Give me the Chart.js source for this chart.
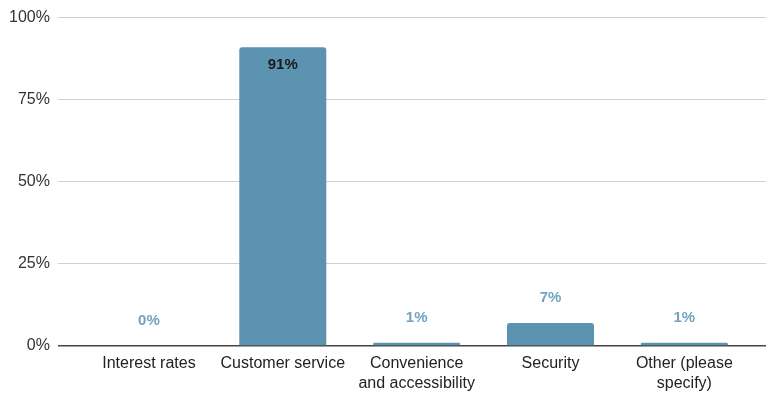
<!DOCTYPE html>
<html>
<head>
<meta charset="utf-8">
<script src="https://cdn.jsdelivr.net/npm/chart.js@4"></script>
<style>
  html, body { margin: 0; padding: 0; background: #fff; }
  #wrap { width: 766px; height: 408px; }
</style>
</head>
<body>
<div id="wrap"><canvas id="myChart"></canvas></div>
<script>
const categories = [
  'Interest rates',
  'Customer service',
  ['Convenience', 'and accessibility'],
  'Security',
  ['Other (please', 'specify)']
]
const shares = [0, 91, 1, 7, 1]
const yTicks = [0, 25, 50, 75, 100]

const barColor = '#5b93b1'
const labelColor = '#71a3c3'
const font = '"Liberation Sans", Arial, sans-serif'

// writes the percentage on each bar: inside the tall one, above the rest
const valueLabels = {
  id: 'valueLabels',
  afterDatasetsDraw(chart) {
    const ctx = chart.ctx
    const meta = chart.getDatasetMeta(0)
    ctx.save()
    ctx.font = 'bold 15px ' + font
    ctx.textAlign = 'center'
    ctx.textBaseline = 'middle'
    meta.data.forEach((bar, i) => {
      const v = shares[i]
      const inside = v > 50
      ctx.fillStyle = inside ? '#1a1a1a' : labelColor
      const y = inside ? bar.y + 18 : bar.y - 25
      ctx.fillText(v + '%', bar.x, y)
    })
    ctx.restore()
  }
}

const chart = new Chart(document.getElementById('myChart'), {
  type: 'bar',
  data: {
    datasets: [{
      data: shares.map((v, i) => ({ x: i, y: v })),
      backgroundColor: barColor,
      borderRadius: { topLeft: 3, topRight: 3 },
      borderSkipped: 'bottom',
      barPercentage: 0.65,
      categoryPercentage: 1
    }]
  },
  options: {
    responsive: true,
    maintainAspectRatio: false,
    animation: false,
    layout: { padding: { top: 6, right: 0, left: 1, bottom: 14 } },
    scales: {
      x: {
        type: 'linear',
        offset: false,
        min: -0.68,
        max: 4.61,
        afterBuildTicks(scale) {
          scale.ticks = categories.map((c, i) => ({ value: i }))
        },
        ticks: {
          autoSkip: false,
          maxRotation: 0,
          color: '#222',
          font: { size: 16, family: font, lineHeight: 1.25 },
          padding: 0,
          callback: (v) => categories[v]
        },
        grid: { display: false },
        border: { display: false }
      },
      y: {
        min: 0,
        max: 100,
        afterBuildTicks(scale) {
          scale.ticks = yTicks.map(v => ({ value: v }))
        },
        ticks: {
          color: '#333',
          font: { size: 16, family: font },
          padding: 8,
          callback: (v) => v + '%'
        },
        grid: {
          color: (c) => c.tick && c.tick.value === 0 ? '#444' : '#d0d0d0',
          lineWidth: (c) => c.tick && c.tick.value === 0 ? 1.5 : 1,
          drawTicks: false
        },
        border: { display: false }
      }
    },
    plugins: {
      legend: { display: false },
      tooltip: { enabled: false }
    }
  },
  plugins: [valueLabels]
})
</script>
</body>
</html>
